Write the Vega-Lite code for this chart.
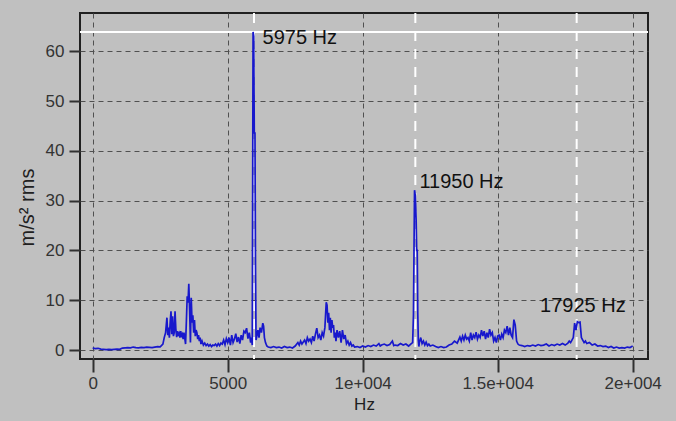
{
  "$schema": "https://vega.github.io/schema/vega-lite/v6.json",
  "width": 568,
  "height": 346,
  "autosize": "none",
  "padding": {"left": 80, "top": 13, "right": 28, "bottom": 62},
  "background": "#c0c0c0",
  "config": {
    "view": {"stroke": "#202020", "strokeWidth": 2, "fill": "#c0c0c0"},
    "axis": {
      "domain": false,
      "grid": true,
      "gridColor": "#505050",
      "gridDash": [5, 4],
      "gridWidth": 1,
      "tickColor": "#303030",
      "tickWidth": 2,
      "labelFont": "Liberation Sans",
      "labelFontSize": 17,
      "labelColor": "#333333",
      "titleFont": "Liberation Sans",
      "titleFontWeight": "normal",
      "titleColor": "#202020"
    }
  },
  "datasets": {
    "spectrum": [
      {"f":0,"a":0.4},{"f":100,"a":0.3},{"f":200,"a":0.35},{"f":300,"a":0.2},{"f":400,"a":0.15},{"f":500,"a":0.1},{"f":600,"a":0.12},{"f":700,"a":0.1},{"f":800,"a":0.15},{"f":900,"a":0.2},{"f":1000,"a":0.15},{"f":1100,"a":0.4},{"f":1200,"a":0.45},{"f":1300,"a":0.5},{"f":1400,"a":0.45},{"f":1500,"a":0.6},{"f":1600,"a":0.5},{"f":1700,"a":0.45},{"f":1800,"a":0.55},{"f":1900,"a":0.5},{"f":2000,"a":0.6},{"f":2100,"a":0.55},{"f":2200,"a":0.5},{"f":2300,"a":0.6},{"f":2400,"a":0.7},{"f":2500,"a":0.65},
      {"f":2600,"a":1.2},{"f":2650,"a":2.5},{"f":2700,"a":3.5},{"f":2750,"a":6.5},{"f":2780,"a":3.0},{"f":2810,"a":4.5},{"f":2840,"a":2.5},{"f":2870,"a":5.5},{"f":2900,"a":7.8},{"f":2930,"a":3.2},{"f":2960,"a":6.8},{"f":2990,"a":2.8},{"f":3020,"a":3.5},{"f":3050,"a":7.8},{"f":3080,"a":4.2},{"f":3110,"a":2.6},{"f":3140,"a":3.8},{"f":3170,"a":2.8},{"f":3200,"a":3.3},{"f":3230,"a":2.5},{"f":3260,"a":3.8},{"f":3290,"a":2.9},{"f":3320,"a":3.2},{"f":3350,"a":2.2},{"f":3380,"a":3.5},{"f":3410,"a":2.4},{"f":3440,"a":1.2},{"f":3470,"a":5.8},{"f":3500,"a":10.8},{"f":3530,"a":9.5},{"f":3560,"a":13.3},{"f":3590,"a":8.0},{"f":3620,"a":1.5},{"f":3650,"a":10.5},{"f":3680,"a":5.5},{"f":3710,"a":7.0},{"f":3740,"a":3.5},{"f":3770,"a":6.0},{"f":3800,"a":2.8},{"f":3830,"a":4.0},{"f":3860,"a":3.5},{"f":3890,"a":2.2},{"f":3920,"a":3.0},{"f":3950,"a":1.8},{"f":3980,"a":2.5},{"f":4010,"a":1.2},{"f":4050,"a":1.8},{"f":4100,"a":1.0},{"f":4150,"a":1.4},{"f":4200,"a":0.9},{"f":4250,"a":1.2},{"f":4300,"a":0.8},{"f":4350,"a":1.1},{"f":4400,"a":0.7},{"f":4450,"a":1.0},{"f":4500,"a":0.9},{"f":4550,"a":1.2},{"f":4600,"a":0.8},{"f":4650,"a":1.3},{"f":4700,"a":0.9},{"f":4750,"a":1.4},{"f":4800,"a":1.2},{"f":4850,"a":2.0},{"f":4900,"a":1.1},{"f":4950,"a":2.3},{"f":5000,"a":1.5},{"f":5050,"a":2.5},{"f":5100,"a":1.0},{"f":5150,"a":3.0},{"f":5200,"a":1.5},{"f":5250,"a":2.2},{"f":5300,"a":3.3},{"f":5350,"a":1.6},{"f":5400,"a":2.6},{"f":5450,"a":1.3},{"f":5500,"a":3.0},{"f":5550,"a":2.0},{"f":5600,"a":3.8},{"f":5650,"a":3.5},{"f":5700,"a":4.4},{"f":5750,"a":2.3},{"f":5800,"a":3.5},{"f":5850,"a":1.5},{"f":5880,"a":2.5},{"f":5910,"a":1.0},
      {"f":5940,"a":63.9},{"f":5965,"a":63.0},{"f":5985,"a":43.6},{"f":6010,"a":43.6},{"f":6030,"a":17.0},{"f":6050,"a":2.0},
      {"f":6080,"a":2.8},{"f":6120,"a":4.0},{"f":6160,"a":2.5},{"f":6200,"a":4.5},{"f":6250,"a":3.5},{"f":6300,"a":5.4},{"f":6330,"a":4.8},{"f":6360,"a":2.5},{"f":6400,"a":1.5},{"f":6450,"a":0.8},{"f":6500,"a":0.6},{"f":6600,"a":0.5},{"f":6700,"a":0.7},{"f":6800,"a":0.5},{"f":6900,"a":0.6},{"f":7000,"a":0.4},{"f":7100,"a":0.7},{"f":7200,"a":0.5},{"f":7300,"a":0.6},{"f":7400,"a":0.4},{"f":7500,"a":0.8},{"f":7600,"a":1.5},{"f":7650,"a":1.0},{"f":7700,"a":1.8},{"f":7750,"a":1.2},{"f":7800,"a":1.6},{"f":7850,"a":2.0},{"f":7900,"a":1.3},{"f":7950,"a":2.5},{"f":8000,"a":1.8},{"f":8050,"a":2.2},{"f":8100,"a":1.5},{"f":8150,"a":2.8},{"f":8200,"a":1.8},{"f":8250,"a":3.2},{"f":8300,"a":4.4},{"f":8350,"a":2.5},{"f":8400,"a":3.0},{"f":8450,"a":2.0},{"f":8500,"a":3.5},{"f":8550,"a":2.8},{"f":8600,"a":4.5},{"f":8650,"a":9.6},{"f":8680,"a":9.0},{"f":8710,"a":5.5},{"f":8740,"a":7.5},{"f":8770,"a":4.0},{"f":8800,"a":6.5},{"f":8830,"a":3.5},{"f":8860,"a":6.0},{"f":8890,"a":4.5},{"f":8920,"a":5.0},{"f":8950,"a":2.5},{"f":8980,"a":3.5},{"f":9010,"a":1.8},{"f":9050,"a":4.0},{"f":9100,"a":2.5},{"f":9150,"a":3.8},{"f":9200,"a":1.5},{"f":9250,"a":4.0},{"f":9300,"a":2.2},{"f":9350,"a":3.0},{"f":9400,"a":1.3},{"f":9450,"a":1.8},{"f":9500,"a":1.0},{"f":9550,"a":1.5},{"f":9600,"a":0.8},{"f":9650,"a":1.0},{"f":9700,"a":0.6},{"f":9800,"a":0.7},{"f":9900,"a":0.5},{"f":10000,"a":0.8},{"f":10100,"a":0.6},{"f":10200,"a":0.9},{"f":10300,"a":0.7},{"f":10400,"a":1.0},{"f":10500,"a":0.8},{"f":10600,"a":1.3},{"f":10650,"a":0.8},{"f":10700,"a":1.0},{"f":10800,"a":1.2},{"f":10900,"a":0.9},{"f":11000,"a":1.1},{"f":11100,"a":1.8},{"f":11150,"a":0.9},{"f":11200,"a":1.0},{"f":11300,"a":0.9},{"f":11400,"a":1.3},{"f":11500,"a":1.0},{"f":11600,"a":1.2},{"f":11700,"a":0.8},{"f":11800,"a":1.3},{"f":11850,"a":1.5},
      {"f":11880,"a":7.0},{"f":11920,"a":32.1},{"f":11950,"a":31.0},{"f":11980,"a":26.0},{"f":12000,"a":20.0},{"f":12020,"a":20.0},{"f":12040,"a":7.4},{"f":12060,"a":2.0},
      {"f":12080,"a":0.7},{"f":12100,"a":1.5},{"f":12150,"a":2.5},{"f":12200,"a":1.3},{"f":12250,"a":1.8},{"f":12300,"a":1.0},{"f":12350,"a":1.6},{"f":12400,"a":0.9},{"f":12450,"a":1.2},{"f":12500,"a":0.8},{"f":12600,"a":1.0},{"f":12700,"a":0.7},{"f":12800,"a":0.5},{"f":12900,"a":0.7},{"f":13000,"a":0.5},{"f":13100,"a":0.6},{"f":13200,"a":1.0},{"f":13300,"a":1.2},{"f":13400,"a":1.8},{"f":13500,"a":1.4},{"f":13600,"a":2.6},{"f":13650,"a":1.8},{"f":13700,"a":2.8},{"f":13750,"a":2.0},{"f":13800,"a":3.0},{"f":13850,"a":2.2},{"f":13900,"a":2.5},{"f":13950,"a":1.8},{"f":14000,"a":3.5},{"f":14050,"a":2.0},{"f":14100,"a":3.0},{"f":14150,"a":2.5},{"f":14200,"a":3.6},{"f":14250,"a":2.2},{"f":14300,"a":3.0},{"f":14350,"a":2.5},{"f":14400,"a":4.0},{"f":14450,"a":2.8},{"f":14500,"a":3.8},{"f":14550,"a":2.2},{"f":14600,"a":3.5},{"f":14650,"a":2.5},{"f":14700,"a":4.2},{"f":14750,"a":3.0},{"f":14800,"a":3.5},{"f":14850,"a":1.8},{"f":14900,"a":2.5},{"f":14950,"a":1.5},{"f":15000,"a":2.8},{"f":15050,"a":3.0},{"f":15100,"a":2.0},{"f":15150,"a":3.2},{"f":15200,"a":2.5},{"f":15250,"a":4.0},{"f":15300,"a":3.5},{"f":15350,"a":4.8},{"f":15400,"a":3.0},{"f":15450,"a":4.5},{"f":15500,"a":3.0},{"f":15550,"a":2.5},{"f":15600,"a":6.1},{"f":15650,"a":5.0},{"f":15700,"a":1.8},{"f":15750,"a":1.2},{"f":15800,"a":1.0},{"f":15900,"a":0.9},{"f":16000,"a":0.7},{"f":16100,"a":0.9},{"f":16200,"a":0.8},{"f":16300,"a":1.0},{"f":16400,"a":0.8},{"f":16500,"a":1.1},{"f":16600,"a":0.9},{"f":16700,"a":1.0},{"f":16800,"a":1.2},{"f":16900,"a":0.8},{"f":17000,"a":1.1},{"f":17100,"a":0.9},{"f":17200,"a":1.2},{"f":17300,"a":1.0},{"f":17400,"a":1.3},{"f":17500,"a":1.0},{"f":17600,"a":1.4},{"f":17650,"a":1.8},{"f":17700,"a":1.5},{"f":17750,"a":2.0},{"f":17800,"a":2.5},{"f":17850,"a":5.4},{"f":17900,"a":4.0},{"f":17950,"a":5.7},{"f":18000,"a":5.5},{"f":18050,"a":5.6},{"f":18100,"a":2.5},{"f":18150,"a":2.0},{"f":18200,"a":1.5},{"f":18250,"a":1.8},{"f":18300,"a":1.3},{"f":18400,"a":1.5},{"f":18500,"a":1.0},{"f":18600,"a":1.2},{"f":18700,"a":0.8},{"f":18800,"a":0.9},{"f":18900,"a":0.7},{"f":19000,"a":0.8},{"f":19100,"a":0.5},{"f":19200,"a":0.7},{"f":19300,"a":0.4},{"f":19400,"a":0.6},{"f":19500,"a":0.4},{"f":19600,"a":0.5},{"f":19700,"a":0.4},{"f":19800,"a":0.6},{"f":19900,"a":0.5},{"f":20000,"a":0.8}
    ],
    "cursors": [{"f":5975},{"f":11950},{"f":17925}],
    "level": [{"a":63.9}],
    "labels": [
      {"f":6290,"a":61.4,"label":"5975 Hz"},
      {"f":12100,"a":32.6,"label":"11950 Hz"},
      {"f":16570,"a":7.7,"label":"17925 Hz"}
    ]
  },
  "layer": [
    {
      "data": {"name": "cursors"},
      "mark": {"type": "rule", "color": "white", "strokeWidth": 2, "strokeDash": [10, 8]},
      "encoding": {
        "x": {
          "field": "f", "type": "quantitative",
          "scale": {"domain": [-470, 20567], "nice": false, "zero": false},
          "axis": {
            "values": [0, 5000, 10000, 15000, 20000],
            "labelExpr": "datum.value == 10000 ? '1e+004' : datum.value == 15000 ? '1.5e+004' : datum.value == 20000 ? '2e+004' : datum.value == 5000 ? '5000' : '0'",
            "tickSize": 13,
            "labelPadding": 3,
            "titleFontSize": 17,
            "titlePadding": 5
          },
          "title": "Hz"
        }
      }
    },
    {
      "data": {"name": "level"},
      "mark": {"type": "rule", "color": "white", "strokeWidth": 2},
      "encoding": {
        "y": {
          "field": "a", "type": "quantitative",
          "scale": {"domain": [-1.8, 67.7], "nice": false, "zero": false},
          "axis": {
            "values": [0, 10, 20, 30, 40, 50, 60],
            "tickSize": 11,
            "labelPadding": 5,
            "titleFontSize": 20,
            "titleX": -53,
            "titleY": 194,
            "titleAngle": 270,
            "titleAlign": "center",
            "titleBaseline": "middle"
          },
          "title": "m/s² rms"
        }
      }
    },
    {
      "data": {"name": "spectrum"},
      "mark": {"type": "line", "color": "#1818cc", "strokeWidth": 1.7},
      "encoding": {
        "x": {"field": "f", "type": "quantitative", "title": "Hz"},
        "y": {"field": "a", "type": "quantitative", "title": "m/s² rms"}
      }
    },
    {
      "data": {"name": "labels"},
      "mark": {"type": "text", "align": "left", "baseline": "alphabetic", "font": "Liberation Sans", "fontSize": 20, "color": "#111111"},
      "encoding": {
        "x": {"field": "f", "type": "quantitative", "title": "Hz"},
        "y": {"field": "a", "type": "quantitative", "title": "m/s² rms"},
        "text": {"field": "label"}
      }
    }
  ]
}
